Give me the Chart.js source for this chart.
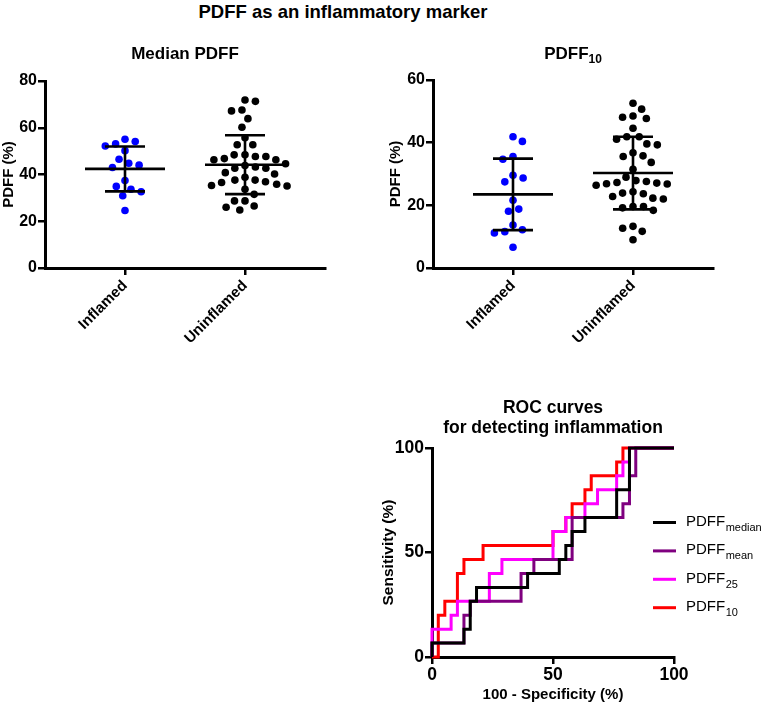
<!DOCTYPE html>
<html>
<head>
<meta charset="utf-8">
<script src="https://cdn.jsdelivr.net/npm/chart.js@4.4.1/dist/chart.umd.min.js"></script>
<style>
  html, body { margin: 0; padding: 0; background: #fff; }
  #wrap { position: relative; width: 762px; height: 706px; overflow: hidden; background: #fff; }
  #wrap canvas { position: absolute; left: 0; top: 0; }
  #mainTitle { position: absolute; left: 0; top: 1px; width: 686px; text-align: center;
    font: bold 18.5px "Liberation Sans", Arial, Helvetica, sans-serif; line-height: 22px; color: #000; }
</style>
</head>
<body>
<div id="wrap">
  <div id="mainTitle">PDFF as an inflammatory marker</div>
  <canvas id="c1" width="762" height="706"></canvas>
  <canvas id="c2" width="762" height="706"></canvas>
  <canvas id="c3" width="762" height="706"></canvas>
</div>
<script>
// ---------------- DATA ----------------
const categories = ['Inflamed', 'Uninflamed'];

// Median PDFF (%)
const medianInflamed = [55.1, 54.1, 53.1, 52.2, 50.2, 46.5, 44.8, 44.0, 43.0, 37.4, 34.9, 33.7, 32.6, 30.9, 24.6];
const medianUninflamed = [71.9, 71.3, 67.6, 67.2, 63.9, 60.2, 55.7, 52.7, 52.7, 48.4, 47.7, 47.7, 48.4,
  46.8, 46.3, 44.6, 46.3, 43.8, 42.7, 42.7, 43.2, 40.8, 40.2, 38.8, 36.9, 36.6, 35.3, 35.8, 37.6, 35.1,
  37.6, 33.7, 31.5, 28.7, 26.5, 24.8, 26.0, 28.7];
const medianMean = [42.4, 44.2];
const medianSD = [9.6, 12.6];

// PDFF10 (%)
const p10Inflamed = [41.9, 40.4, 34.7, 35.6, 28.7, 29.6, 27.5, 21.6, 18.8, 18.1, 13.7, 11.6, 11.2, 12.2, 6.6];
const p10Uninflamed = [52.6, 50.7, 48.5, 48.1, 47.7, 44.6, 41.9, 39.6, 39.3, 41.1, 41.9, 36.8, 35.6, 35.8,
  33.7, 31.5, 27.9, 27.3, 26.9, 26.4, 26.8, 27.1, 27.6, 29.0, 23.9, 22.8, 22.0, 22.3, 23.7, 24.3,
  19.6, 18.4, 19.2, 19.6, 13.3, 12.7, 11.7, 9.0];
const p10Mean = [23.5, 30.3];
const p10SD = [11.4, 11.6];

const yTicksMedian = [0, 20, 40, 60, 80];
const yTicksP10 = [0, 20, 40, 60];
const rocTicks = [0, 50, 100];

// ROC curves: 100 - specificity (%) and sensitivity (%) vertices
const rocMedianX = [0, 0, 13.2, 13.2, 15.8, 15.8, 18.4, 18.4, 39.5, 39.5, 52.6, 52.6, 55.3, 55.3, 57.9, 57.9, 63.2, 63.2, 76.3, 76.3, 81.6, 81.6, 100];
const rocMedianY = [0, 6.7, 6.7, 13.3, 13.3, 26.7, 26.7, 33.3, 33.3, 40, 40, 46.7, 46.7, 53.3, 53.3, 60, 60, 66.7, 66.7, 80, 80, 100, 100];
const rocMeanX = [0, 0, 13.2, 13.2, 15.8, 15.8, 36.8, 36.8, 42.1, 42.1, 57.9, 57.9, 78.9, 78.9, 81.6, 81.6, 84.2, 84.2, 100];
const rocMeanY = [0, 6.7, 6.7, 20, 20, 26.7, 26.7, 40, 40, 46.7, 46.7, 66.7, 66.7, 73.3, 73.3, 86.7, 86.7, 100, 100];
const roc25X = [0, 0, 7.9, 7.9, 10.5, 10.5, 23.7, 23.7, 28.9, 28.9, 50, 50, 55.3, 55.3, 63.2, 63.2, 68.4, 68.4, 76.3, 76.3, 78.9, 78.9, 81.6, 81.6, 100];
const roc25Y = [0, 13.3, 13.3, 20, 20, 26.7, 26.7, 40, 40, 46.7, 46.7, 60, 60, 66.7, 66.7, 73.3, 73.3, 80, 80, 86.7, 86.7, 93.3, 93.3, 100, 100];
const roc10X = [0, 2.6, 2.6, 5.3, 5.3, 10.5, 10.5, 13.2, 13.2, 21.1, 21.1, 50, 50, 55.3, 55.3, 57.9, 57.9, 63.2, 63.2, 65.8, 65.8, 76.3, 76.3, 78.9, 78.9, 100];
const roc10Y = [0, 0, 20, 20, 26.7, 26.7, 40, 40, 46.7, 46.7, 53.3, 53.3, 60, 60, 66.7, 66.7, 73.3, 73.3, 80, 80, 86.7, 86.7, 93.3, 93.3, 100, 100];
const rocSubscripts = ['median', 'mean', '25', '10'];

// ---------------- STYLE / LAYOUT ----------------
const FONT = '"Liberation Sans", Arial, Helvetica, sans-serif';
Chart.defaults.color = '#000';
Chart.defaults.font.family = FONT;
const catX = [2, 5];           // category centres on a 0..7 axis
const dotColors = ['#0000FF', '#000000'];
const rocColors = ['#000000', '#7F007F', '#FF00FF', '#FF0000'];
const DOT_R = 3.8;
const SWARM_GAP = 10.5;

// title plugin (supports subscripts)
const titlePlugin = {
  id: 'subTitle',
  afterDraw(chart, args, opts) {
    if (!opts || !opts.lines) return;
    const ctx = chart.ctx;
    ctx.save();
    ctx.fillStyle = '#000';
    ctx.textBaseline = 'alphabetic';
    ctx.textAlign = 'left';
    opts.lines.forEach(line => {
      let total = 0;
      line.parts.forEach(p => { ctx.font = (p.weight || 'bold') + ' ' + p.size + 'px ' + FONT; p._w = ctx.measureText(p.t).width; total += p._w; });
      let x = line.x - total / 2;
      line.parts.forEach(p => {
        ctx.font = (p.weight || 'bold') + ' ' + p.size + 'px ' + FONT;
        ctx.fillText(p.t, x, line.y + (p.dy || 0));
        x += p._w;
      });
    });
    ctx.restore();
  }
};

// legend plugin for ROC
const rocLegendPlugin = {
  id: 'rocLegend',
  afterDraw(chart) {
    const ctx = chart.ctx, a = chart.chartArea;
    ctx.save();
    rocSubscripts.forEach((sub, i) => {
      const yb = a.top + 78 + i * 28.4;
      ctx.strokeStyle = rocColors[i];
      ctx.lineWidth = 3;
      ctx.beginPath();
      ctx.moveTo(a.right - 21, yb - 3.5);
      ctx.lineTo(a.right + 2, yb - 3.5);
      ctx.stroke();
      ctx.fillStyle = '#000';
      ctx.textAlign = 'left';
      ctx.textBaseline = 'alphabetic';
      ctx.font = '15px ' + FONT;
      ctx.fillText('PDFF', a.right + 12, yb);
      const w = ctx.measureText('PDFF').width;
      ctx.font = '11px ' + FONT;
      ctx.fillText(sub, a.right + 12 + w + 0.5, yb + 5);
    });
    ctx.restore();
  }
};

function axisCommon(extra) {
  return Object.assign({
    grid: { display: true, drawOnChartArea: false, drawTicks: true, tickLength: 7, tickWidth: 2.5, tickColor: '#000', color: '#000', lineWidth: 2.5 },
    border: { display: true, color: '#000', width: 3 },
  }, extra);
}

function swarmOffsets(pys, d) {
  const order = pys.map((_, i) => i).sort((a, b) => pys[a] - pys[b]);
  const placed = [];
  const out = new Array(pys.length);
  let flip = 1;
  for (const i of order) {
    const y = pys[i];
    const ints = [];
    for (const p of placed) {
      const dy = Math.abs(p.y - y);
      if (dy < d) { const h = Math.sqrt(d * d - dy * dy); ints.push([p.x - h, p.x + h]); }
    }
    const cands = [0];
    ints.forEach(([a, b]) => cands.push(a, b));
    const ok = cands.filter(c => ints.every(([a, b]) => c <= a + 1e-6 || c >= b - 1e-6));
    ok.sort((a, b) => (Math.abs(a) - Math.abs(b)) || (flip > 0 ? b - a : a - b));
    const x = ok[0];
    if (Math.abs(x) > 1e-6) flip = -flip;
    out[i] = x;
    placed.push({ x, y });
  }
  return out;
}

function makeScatter(canvasId, groups, means, sds, yMax, yTicks, padding, yWidth, titleLines) {
  const datasets = [];
  means.forEach((m, i) => {
    const c = catX[i], s = sds[i];
    const segs = [
      [{ x: c - 1, y: m }, { x: c + 1, y: m }],
      [{ x: c, y: m - s }, { x: c, y: m + s }],
      [{ x: c - 0.5, y: m + s }, { x: c + 0.5, y: m + s }],
      [{ x: c - 0.5, y: m - s }, { x: c + 0.5, y: m - s }]
    ];
    segs.forEach(seg => datasets.push({
      data: seg, showLine: true, pointRadius: 0, borderColor: '#000', borderWidth: 2.6,
      borderCapStyle: 'butt', order: 0, clip: false
    }));
  });
  const groupIdx = [];
  groups.forEach((vals, i) => {
    groupIdx.push(datasets.length);
    datasets.push({
      data: vals.map(v => ({ x: catX[i], y: v })), showLine: false,
      pointRadius: DOT_R, pointHoverRadius: DOT_R, backgroundColor: dotColors[i], borderWidth: 0, order: 1, clip: false
    });
  });
  const chart = new Chart(document.getElementById(canvasId), {
    type: 'scatter',
    data: { datasets },
    options: {
      responsive: false, animation: false, devicePixelRatio: 1, events: [],
      layout: { padding },
      plugins: { legend: { display: false }, tooltip: { enabled: false }, subTitle: { lines: titleLines } },
      scales: {
        x: axisCommon({
          type: 'linear', min: 0, max: 7,
          afterBuildTicks: s => { s.ticks = catX.map(v => ({ value: v })); },
          afterFit: s => { s.height = 90; },
          ticks: { callback: (v, i) => categories[i], autoSkip: false, minRotation: 45, maxRotation: 45,
                   font: { size: 15, weight: 'bold' }, color: '#000', padding: 2 }
        }),
        y: axisCommon({
          type: 'linear', min: 0, max: yMax,
          afterBuildTicks: s => { s.ticks = yTicks.map(v => ({ value: v })); },
          afterFit: s => { s.width = yWidth; },
          ticks: { font: { size: 16, weight: 'bold' }, color: '#000', padding: 1 },
          title: { display: true, text: 'PDFF (%)', font: { size: 15, weight: 'bold' }, color: '#000', padding: 0 }
        })
      }
    },
    plugins: [titlePlugin]
  });
  // lay the dots out as a swarm around each category centre
  const xs = chart.scales.x, ys = chart.scales.y;
  groups.forEach((vals, i) => {
    const cx = xs.getPixelForValue(catX[i]);
    const offs = swarmOffsets(vals.map(v => ys.getPixelForValue(v)), SWARM_GAP);
    chart.data.datasets[groupIdx[i]].data = vals.map((v, k) => ({ x: xs.getValueForPixel(cx + offs[k]), y: v }));
  });
  chart.update('none');
  return chart;
}

makeScatter('c1', [medianInflamed, medianUninflamed], medianMean, medianSD, 80, yTicksMedian,
  { left: 0, top: 81, right: 437, bottom: 348 }, 45,
  [{ x: 185, y: 58.5, parts: [{ t: 'Median PDFF', size: 17 }] }]);

makeScatter('c2', [p10Inflamed, p10Uninflamed], p10Mean, p10SD, 60, yTicksP10,
  { left: 387, top: 80, right: 49, bottom: 348 }, 46,
  [{ x: 573, y: 58.5, parts: [{ t: 'PDFF', size: 17 }, { t: '10', size: 12, dy: 4 }] }]);

// ---------------- ROC ----------------
const rocSets = [[rocMedianX, rocMedianY], [rocMeanX, rocMeanY], [roc25X, roc25Y], [roc10X, roc10Y]];
new Chart(document.getElementById('c3'), {
  type: 'scatter',
  data: {
    datasets: rocSets.map(([xs, ys], i) => ({
      data: xs.map((x, k) => ({ x, y: ys[k] })),
      showLine: true, pointRadius: 0, borderColor: rocColors[i], borderWidth: 3, tension: 0,
      borderJoinStyle: 'miter', borderCapStyle: 'butt', order: i, clip: false
    }))
  },
  options: {
    responsive: false, animation: false, devicePixelRatio: 1, events: [],
    layout: { padding: { left: 379, top: 448, right: 88, bottom: 2 } },
    plugins: {
      legend: { display: false }, tooltip: { enabled: false },
      subTitle: { lines: [
        { x: 553, y: 412.5, parts: [{ t: 'ROC curves', size: 17.5 }] },
        { x: 553, y: 432.5, parts: [{ t: 'for detecting inflammation', size: 17.5 }] }
      ] }
    },
    scales: {
      x: axisCommon({
        type: 'linear', min: 0, max: 100,
        afterBuildTicks: s => { s.ticks = rocTicks.map(v => ({ value: v })); },
        afterFit: s => { s.height = 47; },
        ticks: { font: { size: 17.5, weight: 'bold' }, color: '#000', padding: 1, maxRotation: 0 },
        title: { display: true, text: '100 - Specificity (%)', font: { size: 15, weight: 'bold' }, color: '#000', padding: 0 }
      }),
      y: axisCommon({
        type: 'linear', min: 0, max: 100,
        afterBuildTicks: s => { s.ticks = rocTicks.map(v => ({ value: v })); },
        afterFit: s => { s.width = 53; },
        ticks: { font: { size: 17.5, weight: 'bold' }, color: '#000', padding: 1 },
        title: { display: true, text: 'Sensitivity (%)', font: { size: 15.5, weight: 'bold' }, color: '#000', padding: 0 }
      })
    }
  },
  plugins: [titlePlugin, rocLegendPlugin]
});
</script>
</body>
</html>
